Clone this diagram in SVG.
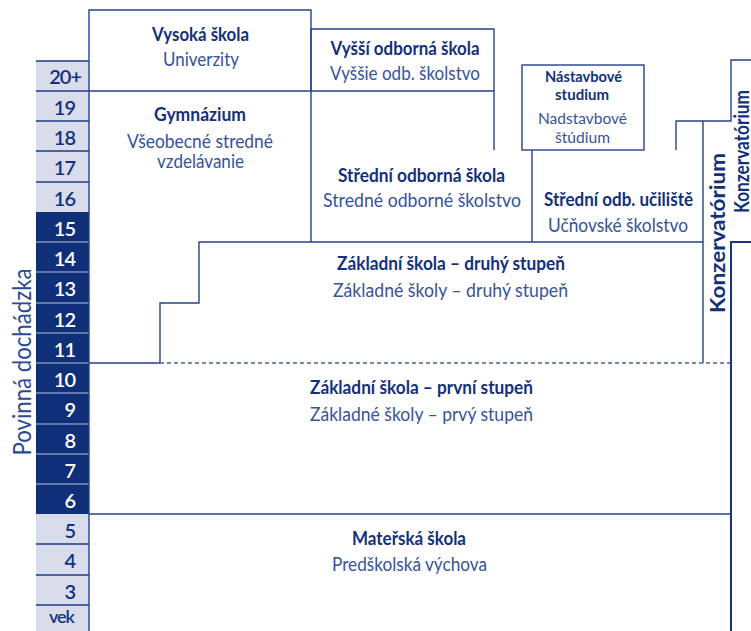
<svg xmlns="http://www.w3.org/2000/svg" width="751" height="631" viewBox="0 0 751 631">
<style>
.bg{fill:#ffffff}
.lt{fill:#d9dcea}
.dk{fill:#102f79}
.sepd{stroke:#1d3b86;stroke-width:1.5}
.sepl{stroke:#b7c0dc;stroke-width:1.2}
.num{font-family:Lato,"Liberation Sans",sans-serif;font-size:20px;font-weight:600;text-anchor:end;letter-spacing:-1px}
.nd{fill:#14317c}
.nw{fill:#ffffff}
.ln{fill:none;stroke:#24438c;stroke-width:1.4}
.ln2{fill:none;stroke:#153582;stroke-width:2}
.dash{fill:none;stroke:#4a64a2;stroke-width:1.3;stroke-dasharray:4 3}
.h{font-family:Lato,"Liberation Sans",sans-serif;font-size:19px;font-weight:700;fill:#13307a;text-anchor:middle}
.s{font-family:Lato,"Liberation Sans",sans-serif;font-size:18.5px;font-weight:400;fill:#36539b;text-anchor:middle}
.side{font-family:Lato,"Liberation Sans",sans-serif;font-size:25px;font-weight:400;fill:#2b4a94;text-anchor:middle}
.kz{font-family:Lato,"Liberation Sans",sans-serif;font-size:20px;font-weight:700;fill:#13307a;text-anchor:middle}
</style>
<rect class="bg" x="0" y="0" width="751" height="631"/>

<g id="age-column">
  <rect class="lt" x="36" y="61" width="53" height="151"/>
  <rect class="dk" x="36" y="212" width="53" height="302"/>
  <rect class="lt" x="36" y="514" width="53" height="117"/>
  <line class="sepd" x1="36" y1="61" x2="89" y2="61"/>
  <line class="sepd" x1="36" y1="91" x2="89" y2="91"/>
  <line class="sepd" x1="36" y1="121" x2="89" y2="121"/>
  <line class="sepd" x1="36" y1="151" x2="89" y2="151"/>
  <line class="sepd" x1="36" y1="182" x2="89" y2="182"/>
  <line class="sepl" x1="36" y1="242" x2="89" y2="242"/>
  <line class="sepl" x1="36" y1="272" x2="89" y2="272"/>
  <line class="sepl" x1="36" y1="303" x2="89" y2="303"/>
  <line class="sepl" x1="36" y1="333" x2="89" y2="333"/>
  <line class="sepl" x1="36" y1="363" x2="89" y2="363"/>
  <line class="sepl" x1="36" y1="393" x2="89" y2="393"/>
  <line class="sepl" x1="36" y1="424" x2="89" y2="424"/>
  <line class="sepl" x1="36" y1="454" x2="89" y2="454"/>
  <line class="sepl" x1="36" y1="484" x2="89" y2="484"/>
  <line class="sepd" x1="36" y1="544" x2="89" y2="544"/>
  <line class="sepd" x1="36" y1="575" x2="89" y2="575"/>
  <line class="sepd" x1="36" y1="605" x2="89" y2="605"/>
  <text class="num nd" x="81" y="84">20+</text>
  <text class="num nd" x="75" y="115">19</text>
  <text class="num nd" x="75" y="145">18</text>
  <text class="num nd" x="75" y="175">17</text>
  <text class="num nd" x="75" y="206">16</text>
  <text class="num nw" x="75" y="236">15</text>
  <text class="num nw" x="75" y="266">14</text>
  <text class="num nw" x="75" y="296">13</text>
  <text class="num nw" x="75" y="327">12</text>
  <text class="num nw" x="75" y="357">11</text>
  <text class="num nw" x="75" y="387">10</text>
  <text class="num nw" x="75" y="417">9</text>
  <text class="num nw" x="75" y="448">8</text>
  <text class="num nw" x="75" y="478">7</text>
  <text class="num nw" x="75" y="508">6</text>
  <text class="num nd" x="75" y="538">5</text>
  <text class="num nd" x="75" y="568">4</text>
  <text class="num nd" x="75" y="599">3</text>
  <text class="num nd" x="74" y="623" style="font-size:18px">vek</text>
  <text class="side" transform="translate(31,362) rotate(-90)" textLength="187" lengthAdjust="spacingAndGlyphs">Povinná dochádzka</text>
</g>

<g id="connectors">
  <polyline class="ln" points="89,631 89,10 311,10 311,242"/>
  <polyline class="ln" points="311,91 311,29 494,29 494,150"/>
  <line class="ln" x1="89" y1="91" x2="494" y2="91"/>
  <rect class="ln" x="522" y="65" width="122" height="85"/>
  <line class="ln" x1="532" y1="150" x2="532" y2="242"/>
  <polyline class="ln" points="676,150 676,121 731,121 731,60 751,60"/>
  <line class="ln" x1="703" y1="121" x2="703" y2="363"/>
  <polyline class="ln" points="703,242 199,242 199,303 160,303 160,363 89,363"/>
  <line class="dash" x1="160" y1="363" x2="731" y2="363"/>
  <line class="ln" x1="89" y1="514" x2="731" y2="514"/>
  <polyline class="ln2" points="731,631 731,242 751,242"/>
</g>

<g id="vysoka-skola">
  <text class="h" x="200.5" y="41" textLength="97" lengthAdjust="spacingAndGlyphs">Vysoká škola</text>
  <text class="s" x="201" y="66" textLength="76" lengthAdjust="spacingAndGlyphs">Univerzity</text>
</g>
<g id="vyssi-odborna-skola">
  <text class="h" x="405" y="55" textLength="149" lengthAdjust="spacingAndGlyphs">Vyšší odborná škola</text>
  <text class="s" x="405" y="80" textLength="150" lengthAdjust="spacingAndGlyphs">Vyššie odb. školstvo</text>
</g>
<g id="gymnazium">
  <text class="h" x="200" y="121" textLength="92" lengthAdjust="spacingAndGlyphs">Gymnázium</text>
  <text class="s" x="200" y="148" textLength="146" lengthAdjust="spacingAndGlyphs">Všeobecné stredné</text>
  <text class="s" x="200.5" y="168" textLength="87" lengthAdjust="spacingAndGlyphs">vzdelávanie</text>
</g>
<g id="nastavbove-studium">
  <text class="h" x="583.5" y="82" style="font-size:15px" textLength="77" lengthAdjust="spacingAndGlyphs">Nástavbové</text>
  <text class="h" x="582" y="100" style="font-size:15px" textLength="54" lengthAdjust="spacingAndGlyphs">studium</text>
  <text class="s" x="582.5" y="124" style="font-size:15.5px" textLength="89" lengthAdjust="spacingAndGlyphs">Nadstavbové</text>
  <text class="s" x="582.5" y="143" style="font-size:15.5px" textLength="55" lengthAdjust="spacingAndGlyphs">štúdium</text>
</g>
<g id="stredni-odborna-skola">
  <text class="h" x="421.5" y="182" textLength="167" lengthAdjust="spacingAndGlyphs">Střední odborná škola</text>
  <text class="s" x="422" y="207" textLength="198" lengthAdjust="spacingAndGlyphs">Stredné odborné školstvo</text>
</g>
<g id="stredni-odb-uciliste">
  <text class="h" x="618.5" y="206" textLength="149" lengthAdjust="spacingAndGlyphs">Střední odb. učiliště</text>
  <text class="s" x="618" y="232" textLength="140" lengthAdjust="spacingAndGlyphs">Učňovské školstvo</text>
</g>
<g id="konzervatorium-inner">
  <text class="kz" transform="translate(724.5,233) rotate(-90)" textLength="160" lengthAdjust="spacingAndGlyphs">Konzervatórium</text>
</g>
<g id="konzervatorium-outer">
  <text class="kz" transform="translate(748.5,151.5) rotate(-90)" textLength="123" lengthAdjust="spacingAndGlyphs">Konzervatórium</text>
</g>
<g id="zakladni-druhy">
  <text class="h" x="451" y="270" textLength="228" lengthAdjust="spacingAndGlyphs">Základní škola – druhý stupeň</text>
  <text class="s" x="450.5" y="297" textLength="235" lengthAdjust="spacingAndGlyphs">Základné školy – druhý stupeň</text>
</g>
<g id="zakladni-prvni">
  <text class="h" x="421.5" y="394" textLength="223" lengthAdjust="spacingAndGlyphs">Základní škola – první stupeň</text>
  <text class="s" x="421.5" y="421" textLength="223" lengthAdjust="spacingAndGlyphs">Základné školy – prvý stupeň</text>
</g>
<g id="materska-skola">
  <text class="h" x="409" y="545" textLength="114" lengthAdjust="spacingAndGlyphs">Mateřská škola</text>
  <text class="s" x="409.5" y="571" textLength="155" lengthAdjust="spacingAndGlyphs">Predškolská výchova</text>
</g>
</svg>
